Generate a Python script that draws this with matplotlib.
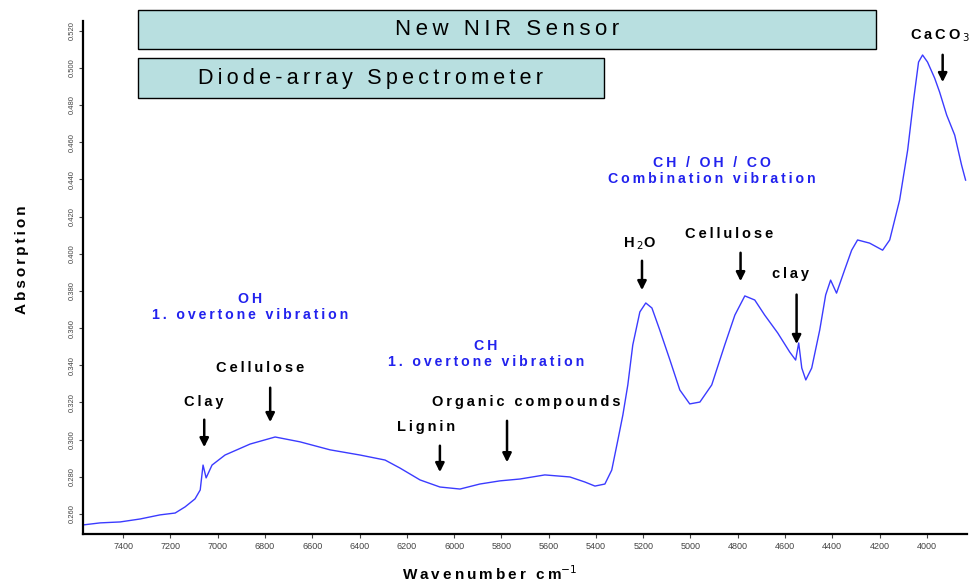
import matplotlib.pyplot as plt
from matplotlib.patches import Rectangle

plt.rcParams['font.family'] = ['Liberation Sans', 'DejaVu Sans']

# spectrum (wavenumber in cm-1, absorption)
wavenumber = [7569, 7497, 7413, 7328, 7244, 7180, 7138, 7096, 7074, 7062,
              7049, 7024, 6969, 6863, 6757, 6652, 6525, 6398, 6292, 6229,
              6144, 6060, 5975, 5891, 5806, 5721, 5616, 5510, 5447, 5404,
              5362, 5333, 5307, 5286, 5265, 5244, 5214, 5189, 5163, 5130,
              5087, 5045, 5003, 4960, 4910, 4855, 4812, 4770, 4728, 4686,
              4631, 4580, 4555, 4542, 4529, 4512, 4487, 4453, 4428, 4407,
              4382, 4348, 4318, 4293, 4242, 4187, 4157, 4115, 4081, 4056,
              4035, 4018, 3997, 3967, 3946, 3916, 3882, 3853, 3836]
absorption = [0.2541, 0.2552, 0.2557, 0.2573, 0.2595, 0.2605, 0.2638, 0.2681, 0.2729, 0.2863,
              0.2794, 0.2863, 0.2917, 0.2976, 0.3014, 0.2988, 0.2945, 0.2917, 0.2890, 0.2847,
              0.2783, 0.2745, 0.2734, 0.2761, 0.2778, 0.2788, 0.2810, 0.2799, 0.2772, 0.2750,
              0.2761, 0.2836, 0.2998, 0.3132, 0.3294, 0.3509, 0.3687, 0.3735, 0.3708, 0.3590,
              0.3429, 0.3267, 0.3192, 0.3202, 0.3294, 0.3509, 0.3670, 0.3773, 0.3751, 0.3670,
              0.3574, 0.3471, 0.3428, 0.3520, 0.3385, 0.3321, 0.3385, 0.3590, 0.3778, 0.3858,
              0.3788, 0.3912, 0.4019, 0.4074, 0.4057, 0.4019, 0.4074, 0.4289, 0.4558, 0.4827,
              0.5031, 0.5069, 0.5031, 0.4945, 0.4870, 0.4746, 0.4638, 0.4477, 0.4396]

x_ticks = [7400, 7200, 7000, 6800, 6600, 6400, 6200, 6000, 5800, 5600,
           5400, 5200, 5000, 4800, 4600, 4400, 4200, 4000]
y_ticks = [0.26, 0.28, 0.30, 0.32, 0.34, 0.36, 0.38, 0.40, 0.42, 0.44,
           0.46, 0.48, 0.50, 0.52]


def spaced(s):
    # the original uses wide letter spacing
    return '\n'.join('\u2009'.join(line) for line in s.split('\n'))


# band labels: text, text position, arrow tail, arrow tip
black_labels = [
    (spaced('Clay'), (7057, 0.3203), (7057, 0.3122), (7057, 0.2944)),
    (spaced('Cellulose'), (6822, 0.3385), (6778, 0.3294), (6778, 0.3079)),
    (spaced('Lignin'), (6120, 0.3068), (6060, 0.2982), (6060, 0.2810)),
    (spaced('Organic compounds'), (5696, 0.3203), (5776, 0.3116), (5776, 0.2863)),
    ('H\u2009$_2$O', (5214, 0.4052), (5205, 0.3977), (5205, 0.3789)),
    (spaced('Cellulose'), (4838, 0.4106), (4788, 0.4020), (4788, 0.3837)),
    (spaced('clay'), (4576, 0.3891), (4551, 0.3795), (4551, 0.3499)),
    ('C\u2009a\u2009C\u2009O\u2009$_3$', (3946, 0.5171), (3933, 0.5085), (3933, 0.4908)),
]
blue_labels = [
    (spaced('OH\n1. overtone vibration'), (6863, 0.3713)),
    (spaced('CH\n1. overtone vibration'), (5865, 0.3461)),
    (spaced('CH / OH / CO\nCombination vibration'), (4910, 0.4445)),
]

fig = plt.figure(figsize=(9.75, 5.83), dpi=100)
ax = fig.add_axes([0.0851, 0.084, 0.9067, 0.88])

ax.plot(wavenumber, absorption, color='#3b3bff', lw=1.0)

ax.set_xlim(7570, 3830)
ax.set_ylim(0.2492, 0.5252)
ax.set_xticks(x_ticks)
ax.set_yticks(y_ticks)
ax.set_yticklabels(['%.3f' % v for v in y_ticks], rotation=90, va='center')
ax.tick_params(axis='y', labelsize=5.5, length=3, width=0.8, colors='#444444', pad=2)
ax.tick_params(axis='x', labelsize=6.5, length=3, width=0.8, colors='#444444', pad=3)
for s in ['top', 'right']:
    ax.spines[s].set_visible(False)
for s in ['left', 'bottom']:
    ax.spines[s].set_linewidth(1.6)

fig.text(0.0226, 0.554, spaced('Absorption'), rotation=90, ha='center', va='center',
         fontsize=11, fontweight='bold')
fig.text(0.502, 0.016, spaced('Wavenumber cm') + '$^{-1}$', ha='center', va='center',
         fontsize=11, fontweight='bold')

for txt, pos, tail, tip in black_labels:
    ax.text(pos[0], pos[1], txt, ha='center', va='center', fontsize=10.5,
            fontweight='bold', color='black')
    ax.annotate('', xy=tip, xytext=tail,
                arrowprops=dict(arrowstyle='-|>', color='black', lw=1.8,
                                mutation_scale=13))

for txt, pos in blue_labels:
    ax.text(pos[0], pos[1], txt, ha='center', va='center', fontsize=10.2,
            fontweight='bold', color='#2222ee', linespacing=1.2)

# sensor range boxes at the top
box_face = '#b8dfe0'
fig.patches.append(Rectangle((0.1415, 0.916), 0.757, 0.0669, transform=fig.transFigure,
                             facecolor=box_face, edgecolor='black', lw=1.0))
fig.patches.append(Rectangle((0.1415, 0.832), 0.478, 0.0686, transform=fig.transFigure,
                             facecolor=box_face, edgecolor='black', lw=1.0))
fig.text(0.52, 0.949, spaced('New NIR Sensor'), ha='center', va='center', fontsize=16)
fig.text(0.3805, 0.866, spaced('Diode-array Spectrometer'), ha='center', va='center',
         fontsize=15.5)

fig.savefig('out.png', dpi=100)
